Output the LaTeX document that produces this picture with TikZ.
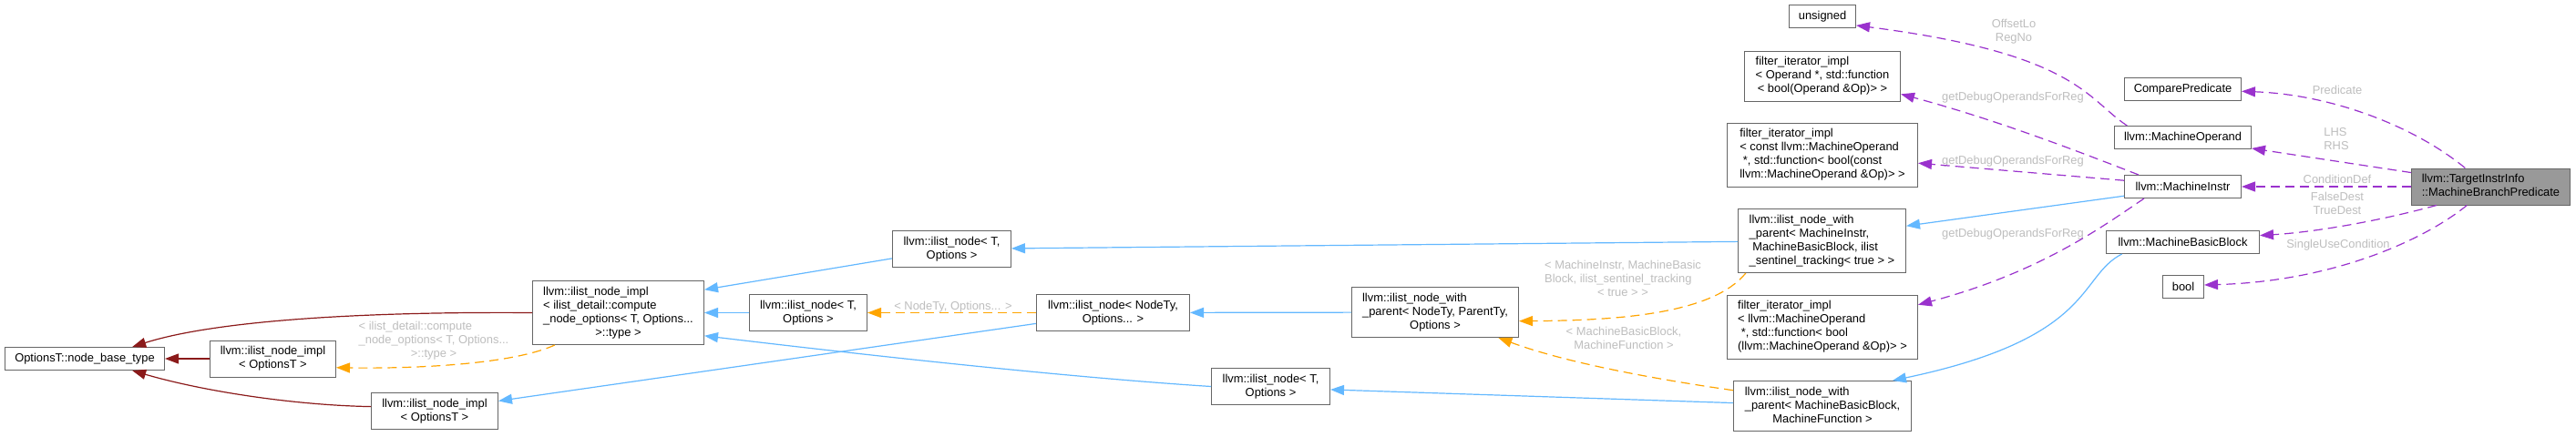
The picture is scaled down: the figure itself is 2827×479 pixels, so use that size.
\documentclass[tikz,border=0pt]{standalone}
\usepackage{fontspec}
\setmainfont{Liberation Sans}
\usetikzlibrary{arrows.meta}
\definecolor{boxgrey}{HTML}{666666}
\definecolor{rootgrey}{HTML}{999999}
\definecolor{lblgrey}{HTML}{BEBEBE}
\definecolor{inhblue}{HTML}{63B8FF}
\definecolor{inhred}{HTML}{8B1A1A}
\definecolor{tmplorange}{HTML}{FFA500}
\definecolor{usepurple}{HTML}{9A32CD}
\newcommand{\boxtext}[1]{\begin{tabular}{@{}l@{}}#1\end{tabular}}
\newcommand{\lastln}[1]{\multicolumn{1}{@{}c@{}}{#1}}
\tikzset{
  cls/.style={draw=boxgrey, fill=white, line width=0.5pt, inner xsep=4pt, inner ysep=2.5pt, minimum height=12.5pt, minimum width=#1},
  root/.style={cls=#1, fill=rootgrey},
  lbl/.style={text=lblgrey, inner sep=0pt},
  tip/.style={-{Triangle[length=7.5pt,width=5.5pt]}},
  blueinh/.style={draw=inhblue, line width=0.6pt, tip},
  redinh/.style={draw=inhred, line width=0.6pt, tip},
  tmpl/.style={draw=tmplorange, line width=0.6pt, dash pattern=on 5pt off 3pt, tip},
  use/.style={draw=usepurple, line width=0.6pt, dash pattern=on 5pt off 3pt, tip}
}
\begin{document}
\begin{tikzpicture}[x=0.5pt, y=0.5pt, font=\fontsize{6.45}{7.5}\selectfont]
\path[fill=white] (0,0) rectangle (2827,479);

% ilist node bases
\node[cls=87.5pt] (base) at (93, 85) {OptionsT::node\_base\_type};
\node[cls=69pt] (implT) at (299.5, 85) {\boxtext{llvm::ilist\_node\_impl\\\lastln{< OptionsT >}}};
\node[cls=69.5pt] (implB) at (477, 27.5) {\boxtext{llvm::ilist\_node\_impl\\\lastln{< OptionsT >}}};
\node[cls=94pt] (implC) at (678.5, 135.5) {\boxtext{llvm::ilist\_node\_impl\\< ilist\_detail::compute\\\_node\_options< T, Options...\\\lastln{>::type >}}};
\node[cls=64.5pt] (nodeA) at (887, 135.5) {\boxtext{llvm::ilist\_node< T,\\\lastln{Options >}}};
\node[cls=65pt] (nodeB) at (1044.5, 205.5) {\boxtext{llvm::ilist\_node< T,\\\lastln{Options >}}};
\node[cls=84pt] (nodeTy) at (1221.5, 135.5) {\boxtext{llvm::ilist\_node< NodeTy,\\\lastln{Options... >}}};
\node[cls=65pt] (nodeC) at (1394.5, 54.5) {\boxtext{llvm::ilist\_node< T,\\\lastln{Options >}}};
\node[cls=91.5pt] (withPar) at (1575, 136) {\boxtext{llvm::ilist\_node\_with\\\_parent< NodeTy, ParentTy,\\\lastln{Options >}}};

% middle column
\node[cls=36.5pt] (unsigned) at (2000, 461) {unsigned};
\node[cls=85.5pt] (filtOp) at (2000, 395.5) {\boxtext{filter\_iterator\_impl\\< Operand *, std::function\\\lastln{< bool(Operand \&Op)> >}}};
\node[cls=104.5pt] (filtCMO) at (2000, 309) {\boxtext{filter\_iterator\_impl\\< const llvm::MachineOperand\\\ *, std::function< bool(const\\\lastln{llvm::MachineOperand \&Op)> >}}};
\node[cls=92pt] (withMI) at (1999.5, 214.5) {\boxtext{llvm::ilist\_node\_with\\\_parent< MachineInstr,\\\ MachineBasicBlock, ilist\\\lastln{\_sentinel\_tracking< true > >}}};
\node[cls=104.5pt] (filtMO) at (2000, 120) {\boxtext{filter\_iterator\_impl\\< llvm::MachineOperand\\\ *, std::function< bool\\\lastln{(llvm::MachineOperand \&Op)> >}}};
\node[cls=97.5pt] (withMBB) at (2000, 33) {\boxtext{llvm::ilist\_node\_with\\\_parent< MachineBasicBlock,\\\lastln{MachineFunction >}}};

% members
\node[cls=64pt] (cmppred) at (2395.5, 381) {ComparePredicate};
\node[cls=75pt] (mop) at (2395.5, 328) {llvm::MachineOperand};
\node[cls=64pt] (minstr) at (2395.5, 274) {llvm::MachineInstr};
\node[cls=84pt] (mbb) at (2395.5, 213) {llvm::MachineBasicBlock};
\node[cls=22.5pt] (bool) at (2396, 164) {bool};
\node[root=87pt] (main) at (2733.5, 274) {\boxtext{llvm::TargetInstrInfo\\\lastln{::MachineBranchPredicate}}};

% edge labels
\node[lbl] (lcompute) at (476, 105) {\boxtext{< ilist\_detail::compute\\\_node\_options< T, Options...\\\lastln{>::type >}}};
\node[lbl] (lnodety) at (1046, 142) {< NodeTy, Options... >};
\node[lbl] (lmi) at (1781, 172) {\boxtext{< MachineInstr, MachineBasic\\Block, ilist\_sentinel\_tracking\\\lastln{< true > >}}};
\node[lbl] (lmbb) at (1782, 106) {\boxtext{< MachineBasicBlock,\\\lastln{MachineFunction >}}};
\node[lbl] (loffset) at (2210, 444) {\boxtext{OffsetLo\\\lastln{RegNo}}};
\node[lbl] (ldbg1) at (2209, 372) {getDebugOperandsForReg};
\node[lbl] (ldbg2) at (2209, 302) {getDebugOperandsForReg};
\node[lbl] (ldbg3) at (2209, 222) {getDebugOperandsForReg};
\node[lbl] (lpred) at (2565, 380) {Predicate};
\node[lbl] (llhs) at (2564, 325.5) {\boxtext{LHS\\\lastln{RHS}}};
\node[lbl] (lcond) at (2565, 282) {ConditionDef};
\node[lbl] (ldest) at (2565, 254.5) {\boxtext{FalseDest\\\lastln{TrueDest}}};
\node[lbl] (lsingle) at (2566, 210) {SingleUseCondition};

% red
\draw (implT) edge[redinh] (base);
\draw[redinh] (implC.west) .. controls (380,137) and (230,125) .. (base.14);
\draw[redinh] (implB.176) .. controls (320,34) and (220,50) .. (base.-14);
% orange
\draw[tmpl] (implC.207) .. controls (560,78) and (450,74) .. (implT.-8);
\draw (nodeTy) edge[tmpl] (nodeA);
\draw[tmpl] (withMI.203) .. controls (1880,135) and (1780,127) .. (withPar.-6);
\draw[tmpl] (withMBB.170) .. controls (1820,62) and (1720,80) .. (withPar.-22);
% blue
\draw (nodeA) edge[blueinh] (implC);
\draw (nodeB.189) edge[blueinh] (implC.15);
\draw[blueinh] (nodeC.west) .. controls (1150,66) and (900,95) .. (implC.-15);
\draw (nodeTy.188) edge[blueinh] (implB.9);
\draw (withPar) edge[blueinh] (nodeTy);
\draw (withMI) edge[blueinh] (nodeB);
\draw (withMBB.178) edge[blueinh] (nodeC.-3);
\draw (minstr.189) edge[blueinh] (withMI.10);
\draw[blueinh] (mbb.191) .. controls (2280,175) and (2300,108) .. (withMBB.20);
% purple
\draw[use] (mop.168) .. controls (2290,370) and (2280,420) .. (unsigned.-15);
\draw[use] (minstr.165) .. controls (2300,305) and (2200,345) .. (filtOp.-13);
\draw (minstr.174) edge[use] (filtCMO.-5);
\draw[use] (minstr.197) .. controls (2310,232) and (2240,180) .. (filtMO.13);
\draw[use] (main.144) .. controls (2650,340) and (2560,375) .. (cmppred.-2);
\draw (main.170) edge[use] (mop.-9);
\draw (main) edge[use] (minstr);
\draw[use] (main.199) .. controls (2610,236) and (2540,224) .. (mbb.5);
\draw[use] (main.218) .. controls (2660,215) and (2560,170) .. (bool.5);
\end{tikzpicture}
\end{document}
